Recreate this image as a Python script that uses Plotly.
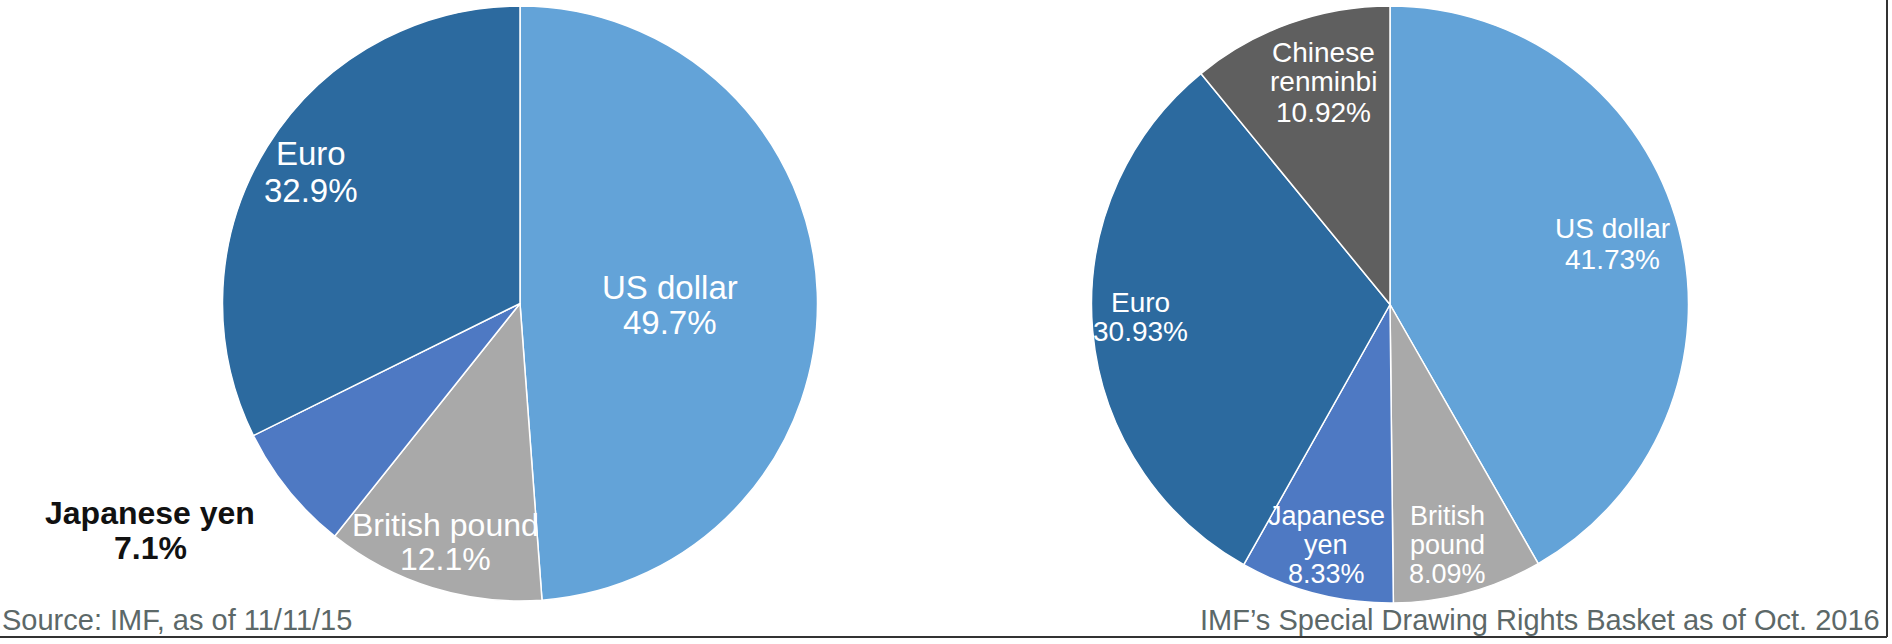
import plotly.graph_objects as go

# ---------------- data ----------------
left_labels = ["US dollar", "British pound", "Japanese yen", "Euro"]
left_values = [49.7, 12.1, 7.1, 32.9]

right_labels = ["US dollar", "British pound", "Japanese yen", "Euro", "Chinese renminbi"]
right_values = [41.73, 8.09, 8.33, 30.93, 10.92]

left_note = "Source: IMF, as of 11/11/15"
right_note = "IMF\u2019s Special Drawing Rights Basket as of Oct. 2016"

# ---------------- style ----------------
colors = {
    "US dollar": "#63a3d8",
    "Euro": "#2c6a9f",
    "Japanese yen": "#4e79c3",
    "British pound": "#a9a9a9",
    "Chinese renminbi": "#5f5f5f",
}
W, H = 1892, 644
FONT = "Liberation Sans, Arial, Helvetica, sans-serif"


def px_x(v):
    return v / W


def px_y(v):
    return 1 - v / H


# label layout: (center x px, first line y px, line gap px, line split, font size, color, bold)
left_label_layout = {
    "Euro": (311, 154, 37, ["Euro"], 33, "white", False),
    "US dollar": (670, 287, 35, ["US dollar"], 33, "white", False),
    "British pound": (445, 525, 34, ["British pound"], 32, "white", False),
    "Japanese yen": (150, 513, 35, ["Japanese yen"], 32, "#111111", True),
}
right_label_layout = {
    "Chinese renminbi": (1323, 52, 30, ["Chinese", "renminbi"], 28, "white", False),
    "US dollar": (1612, 229, 30, ["US dollar"], 28, "white", False),
    "Euro": (1140, 302, 29, ["Euro"], 28, "white", False),
    "Japanese yen": (1326, 516, 29, ["Japanese", "yen"], 27, "white", False),
    "British pound": (1447, 516, 29, ["British", "pound"], 27, "white", False),
}

fig = go.Figure()

fig.add_trace(go.Pie(
    labels=left_labels,
    values=left_values,
    sort=False,
    direction="clockwise",
    rotation=0,
    textinfo="none",
    hoverinfo="label+value",
    marker=dict(colors=[colors[l] for l in left_labels], line=dict(color="white", width=1.5)),
    domain=dict(x=[px_x(520 - 297.5), px_x(520 + 297.5)], y=[px_y(601), px_y(6)]),
    showlegend=False,
))

fig.add_trace(go.Pie(
    labels=right_labels,
    values=right_values,
    sort=False,
    direction="clockwise",
    rotation=0,
    textinfo="none",
    hoverinfo="label+value",
    marker=dict(colors=[colors[l] for l in right_labels], line=dict(color="white", width=1.5)),
    domain=dict(x=[px_x(1390 - 298.5), px_x(1390 + 298.5)], y=[px_y(603), px_y(6)]),
    showlegend=False,
))

annotations = []


def add_labels(labels, values, layout, fmt):
    for lab, val in zip(labels, values):
        cx, y0, gap, lines, size, col, bold = layout[lab]
        all_lines = lines + [fmt.format(val)]
        for i, line in enumerate(all_lines):
            txt = f"<b>{line}</b>" if bold else line
            annotations.append(dict(
                x=px_x(cx), y=px_y(y0 + i * gap), xref="paper", yref="paper",
                text=txt, showarrow=False, xanchor="center", yanchor="middle",
                font=dict(family=FONT, size=size, color=col),
            ))


add_labels(left_labels, left_values, left_label_layout, "{:.1f}%")
add_labels(right_labels, right_values, right_label_layout, "{:.2f}%")

annotations.append(dict(
    x=0, y=px_y(620), xref="paper", yref="paper", text=left_note,
    showarrow=False, xanchor="left", yanchor="middle",
    font=dict(family=FONT, size=29, color="#5c6868"),
))
annotations.append(dict(
    x=px_x(1882), y=px_y(620), xref="paper", yref="paper", text=right_note,
    showarrow=False, xanchor="right", yanchor="middle",
    font=dict(family=FONT, size=29, color="#5c6868"),
))

shapes = [
    dict(type="line", xref="paper", yref="paper", x0=0, x1=px_x(1887), y0=px_y(637), y1=px_y(637),
         line=dict(color="#333333", width=2)),
    dict(type="line", xref="paper", yref="paper", x0=px_x(1887), x1=px_x(1887), y0=px_y(637), y1=1,
         line=dict(color="#333333", width=2)),
]

fig.update_layout(
    width=W, height=H,
    margin=dict(l=0, r=0, t=0, b=0),
    paper_bgcolor="white",
    plot_bgcolor="white",
    annotations=annotations,
    shapes=shapes,
)

fig.write_html(
    "out.html",
    config={"displayModeBar": False},
    post_script="document.body.style.margin='0';document.body.style.overflow='hidden';",
)
